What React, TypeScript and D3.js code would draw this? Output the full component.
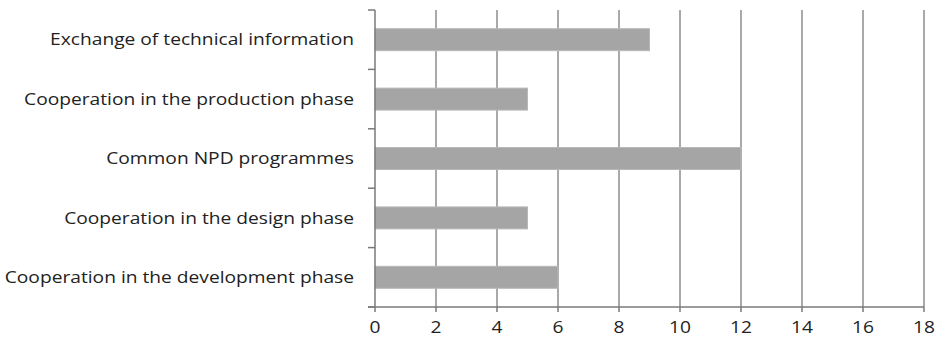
import React from "react";
import * as d3 from "d3";

const categories = [
  "Exchange of technical information",
  "Cooperation in the production phase",
  "Common NPD programmes",
  "Cooperation in the design phase",
  "Cooperation in the development phase",
];
const values = [9, 5, 12, 5, 6];
const xTicks = [0, 2, 4, 6, 8, 10, 12, 14, 16, 18];

const W = 942;
const H = 342;
const margin = { left: 375, right: 18, top: 10, bottom: 35 };
const FONT = "'Open Sans', 'DejaVu Sans', sans-serif";
const STRETCH = 1.2;

export default function App() {
  const x = d3.scaleLinear().domain([0, 18]).range([margin.left, W - margin.right]);
  const y = d3
    .scaleBand<string>()
    .domain(categories)
    .range([margin.top, H - margin.bottom])
    .paddingInner(0.63)
    .paddingOuter(0.315);
  const band = (H - margin.top - margin.bottom) / categories.length;
  const bottom = H - margin.bottom;

  return (
    <svg width={W} height={H} style={{ position: "absolute", left: 0, top: 0, background: "#fff" }}>
      {/* vertical gridlines */}
      {xTicks.slice(1).map((t) => (
        <line key={"g" + t} x1={x(t)} x2={x(t)} y1={margin.top} y2={bottom} stroke="#8c8c8c" strokeWidth={1.5} />
      ))}
      {/* bars */}
      {categories.map((c, i) => (
        <rect
          key={c}
          x={x(0)}
          y={y(c)}
          width={x(values[i]) - x(0)}
          height={y.bandwidth()}
          fill="#a5a5a5"
          stroke="#b8b8b8"
          strokeWidth={1}
        />
      ))}
      {/* y axis */}
      <line x1={x(0)} x2={x(0)} y1={margin.top} y2={bottom} stroke="#7a7a7a" strokeWidth={1.5} />
      {d3.range(categories.length + 1).map((k) => (
        <line key={"yt" + k} x1={x(0) - 7} x2={x(0)} y1={margin.top + k * band} y2={margin.top + k * band} stroke="#7a7a7a" strokeWidth={1.5} />
      ))}
      {/* x axis */}
      <line x1={x(0) - 7} x2={x(18)} y1={bottom} y2={bottom} stroke="#7a7a7a" strokeWidth={1.5} />
      {xTicks.map((t) => (
        <line key={"xt" + t} x1={x(t)} x2={x(t)} y1={bottom} y2={bottom + 5} stroke="#7a7a7a" strokeWidth={1.5} />
      ))}
      {xTicks.map((t) => (
        <text
          key={"xl" + t}
          transform={`translate(${x(t)},${bottom + 26}) scale(${STRETCH},1)`}
          textAnchor="middle"
          fontFamily={FONT}
          fontSize={16}
          fill="#222"
        >
          {t}
        </text>
      ))}
      {/* category labels */}
      {categories.map((c) => (
        <text
          key={"l" + c}
          transform={`translate(354,${(y(c) ?? 0) + y.bandwidth() / 2}) scale(${STRETCH},1)`}
          dy="0.35em"
          textAnchor="end"
          fontFamily={FONT}
          fontSize={16}
          fill="#222"
        >
          {c}
        </text>
      ))}
    </svg>
  );
}
